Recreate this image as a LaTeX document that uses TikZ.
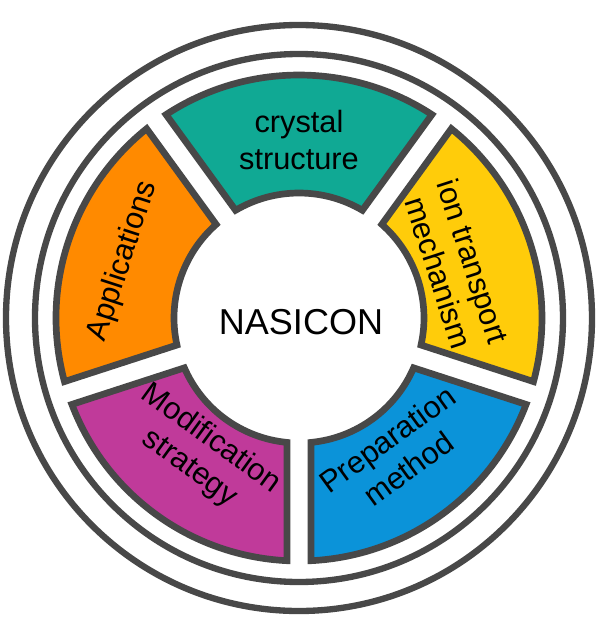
\documentclass[tikz,border=0pt]{standalone}
\usepackage{fontspec}
\setmainfont{Liberation Sans}
\usepackage{tikz}
\definecolor{ringgray}{HTML}{484848}
\definecolor{teal}{HTML}{10A994}
\definecolor{orange}{HTML}{FF8A00}
\definecolor{yellow}{HTML}{FFCC0A}
\definecolor{blue}{HTML}{0B93D9}
\definecolor{magenta}{HTML}{C03A9A}

% radii of the coloured ring and the angle shift that keeps the gaps parallel
\def\ro{243}
\def\ri{125}
\def\da{2.83}
\def\di{5.51}
\newcommand{\ringpart}[4]{%
  \filldraw[part, fill=#2] ({#3+\da}:\ro) arc[start angle={#3+\da}, end angle={#4-\da}, radius=\ro]
    -- ({#4-\di}:\ri) arc[start angle={#4-\di}, end angle={#3+\di}, radius=\ri] -- cycle;}

\begin{document}
\begin{tikzpicture}[x=0.02cm, y=0.02cm]

        \tikzset{ring/.style = {draw=ringgray, line width=3.6pt}}
        \tikzset{part/.style = {draw=ringgray, line width=3.8pt}}
        \tikzset{caption/.style = {font=\fontsize{17.5}{20.5}\selectfont, align=center}}

        \useasboundingbox (-299,-302) rectangle (299,318);
        \fill[white] (-299,-302) rectangle (299,318);

        \draw[ring] (0,0) circle[radius=293];
        \draw[ring] (0,0) circle[radius=264];

        \ringpart{crystal}{teal}{54}{126}
        \ringpart{applic}{orange}{126}{198}
        \ringpart{modif}{magenta}{198}{270}
        \ringpart{prep}{blue}{270}{342}
        \ringpart{ion}{yellow}{-18}{54}

        \node[caption] (crystal) at (90:178) {crystal\\structure};
        \node[caption, rotate=72] (applic) at (162:185) {Applications};
        \node[caption, rotate=-36] (modif) at (234:168) {Modification\\strategy};
        \node[caption, rotate=36] (prep) at (306:168) {Preparation\\method};
        \node[caption, rotate=-72] (ion) at (18:165) {ion transport\\mechanism};

        \node[font=\fontsize{20.5}{24}\selectfont] (nasicon) at (2,-4) {NASICON};
	\end{tikzpicture}
\end{document}
